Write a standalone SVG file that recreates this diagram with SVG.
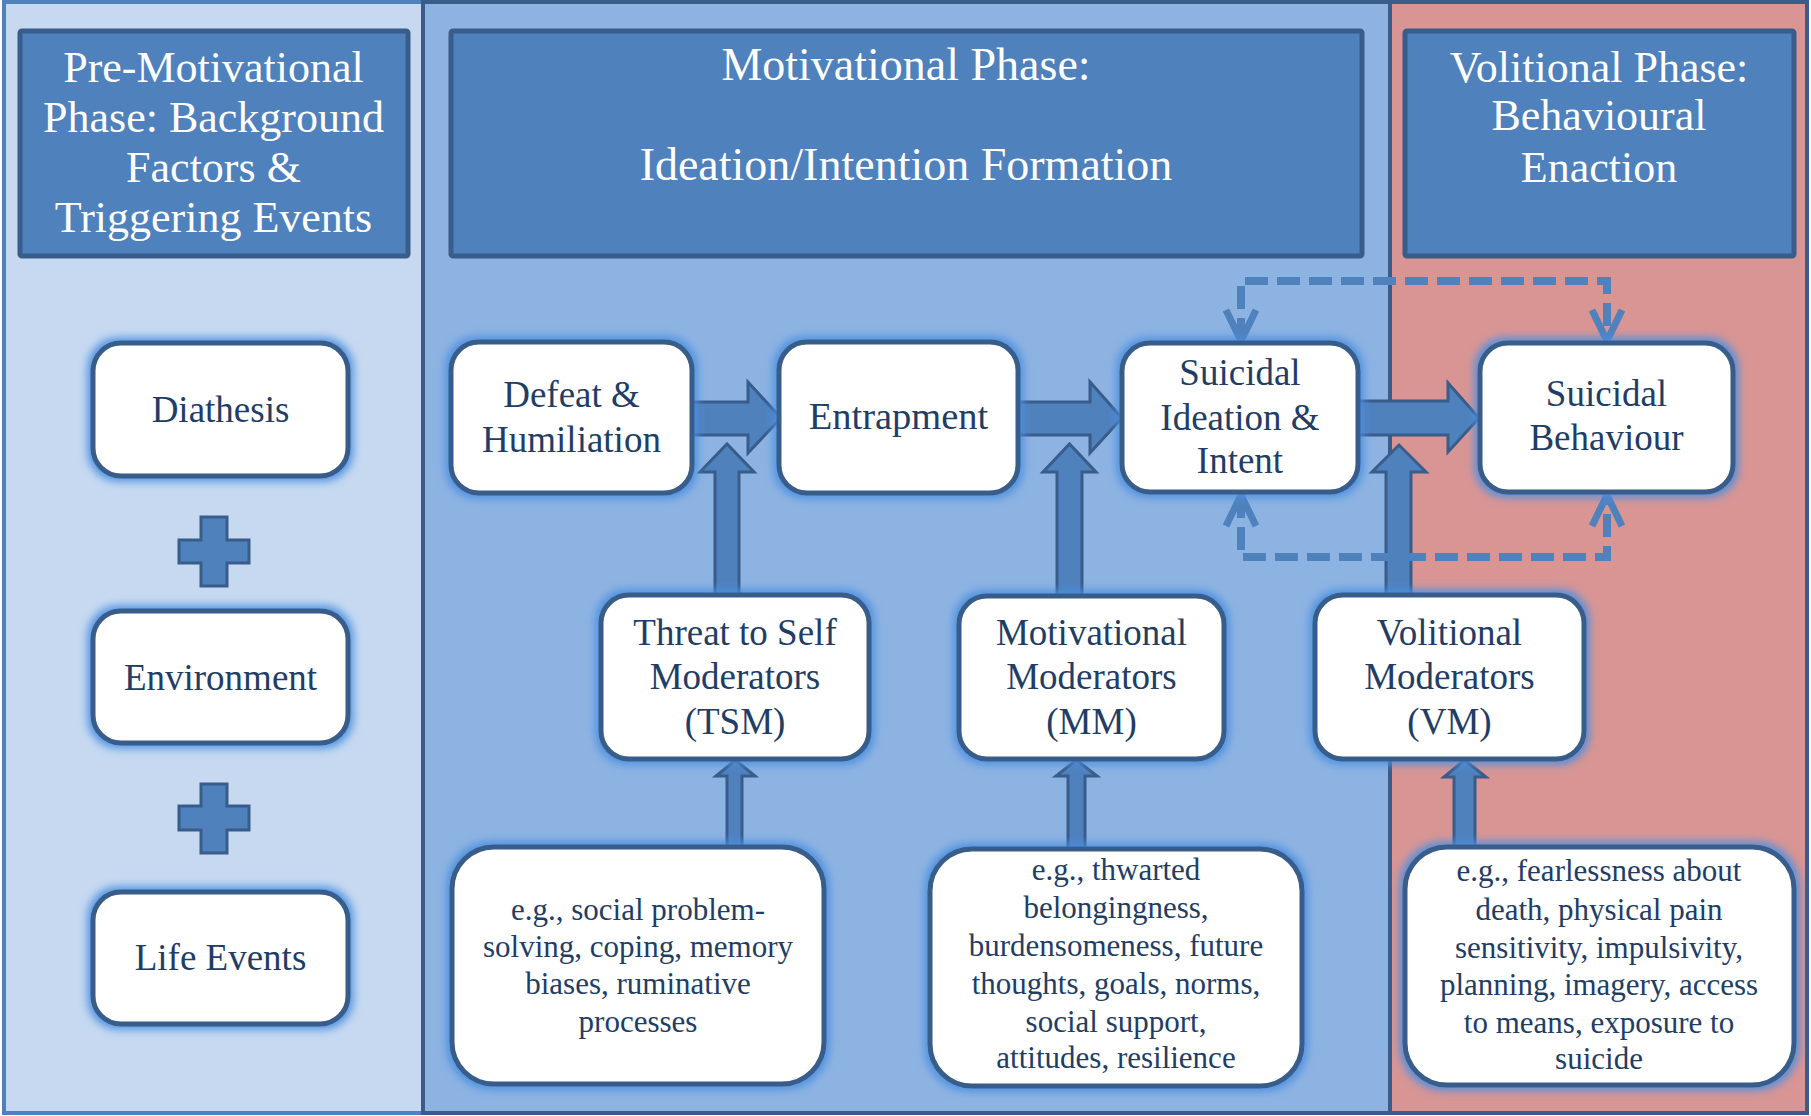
<svg xmlns="http://www.w3.org/2000/svg" width="1811" height="1116" viewBox="0 0 1811 1116">
<defs>
<style>
.hdr{fill:#4F81BD;stroke:#385D8A;stroke-width:5}
.ht{font-family:"Liberation Serif",serif;font-size:44px;fill:#FFFFFF;text-anchor:middle}
.box{fill:#FFFFFF;stroke:#385D8A;stroke-width:5}
.nt{font-family:"Liberation Serif",serif;font-size:37px;fill:#213D66;text-anchor:middle}
.et{font-family:"Liberation Serif",serif;font-size:31px;fill:#213D66;text-anchor:middle}
.blk{fill:#4F81BD;stroke:#385D8A;stroke-width:3;stroke-linejoin:miter}
.dash{fill:none;stroke:#4F81BD;stroke-width:8;stroke-dasharray:23 9}
</style>
<filter id="glow" x="-15%" y="-15%" width="130%" height="130%">
<feMorphology in="SourceAlpha" operator="dilate" radius="3" result="d"/>
<feGaussianBlur in="d" stdDeviation="4.5" result="b"/>
<feFlood flood-color="#4A8FE0" flood-opacity="0.95"/>
<feComposite in2="b" operator="in" result="g"/>
<feMerge><feMergeNode in="g"/><feMergeNode in="SourceGraphic"/></feMerge>
</filter>
<marker id="chev" markerUnits="userSpaceOnUse" viewBox="-40 -20 44 40" refX="0" refY="0" markerWidth="44" markerHeight="40" orient="auto-start-reverse" overflow="visible">
<path d="M-31,-15 L0,0 L-31,15" fill="none" stroke="#4F81BD" stroke-width="7"/>
</marker>
</defs>

<g id="panels">
<rect x="4" y="2" width="419" height="1111" fill="#C6D9F1" stroke="#4F81BD" stroke-width="4"/>
<rect x="423" y="2" width="967" height="1111" fill="#8DB3E2" stroke="#385D8A" stroke-width="4"/>
<rect x="1390" y="2" width="417" height="1111" fill="#D99594" stroke="#385D8A" stroke-width="4"/>
</g>

<g id="header-pre">
<rect class="hdr" x="20" y="31" width="388" height="225" rx="2"/>
<text class="ht" x="213.5" y="82">Pre-Motivational</text>
<text class="ht" x="213.5" y="132">Phase: Background</text>
<text class="ht" x="213.5" y="182">Factors &amp;</text>
<text class="ht" x="213.5" y="232">Triggering Events</text>
</g>
<g id="header-motivational">
<rect class="hdr" x="451" y="31" width="911" height="225" rx="2"/>
<text class="ht" x="906" y="80" style="font-size:46px">Motivational Phase:</text>
<text class="ht" x="906" y="180" style="font-size:46px">Ideation/Intention Formation</text>
</g>
<g id="header-volitional">
<rect class="hdr" x="1405" y="31" width="389" height="225" rx="2"/>
<text class="ht" x="1599" y="82">Volitional Phase:</text>
<text class="ht" x="1599" y="130">Behavioural</text>
<text class="ht" x="1599" y="182">Enaction</text>
</g>

<g id="connectors">
<polygon class="blk" points="692,402 748,402 748,382 781,418 748,453 748,435 692,435"/>
<polygon class="blk" points="1018,402 1090,402 1090,382 1122,418 1090,453 1090,435 1018,435"/>
<polygon class="blk" points="1358,401 1448,401 1448,383 1479,418 1448,452 1448,435 1358,435"/>
<polygon class="blk" points="715,595 715,472 700,472 727,444 754,472 739,472 739,595"/>
<polygon class="blk" points="1057,596 1057,472 1043,472 1069.5,444 1096,472 1082,472 1082,596"/>
<polygon class="blk" points="1386,595 1386,472 1372,472 1399,445 1426,472 1411,472 1411,595"/>
<polygon class="blk" points="727,847 727,776 716,776 735.5,760 755,776 742,776 742,847"/>
<polygon class="blk" points="1068,849 1068,776 1056,776 1076.5,760 1097,776 1085,776 1085,849"/>
<polygon class="blk" points="1454,847 1454,777 1444,777 1464.5,760 1486,777 1475,777 1475,847"/>
<path class="dash" d="M1241,341 L1241,281 L1607,281 L1607,341" marker-start="url(#chev)" marker-end="url(#chev)"/>
<path class="dash" d="M1241,495 L1241,557 L1607,557 L1607,495" marker-start="url(#chev)" marker-end="url(#chev)"/>
<g class="plus">
<polygon class="blk" points="201,517 227,517 227,540 249,540 249,563 227,563 227,586 201,586 201,563 179,563 179,540 201,540"/>
<polygon class="blk" points="201,784 227,784 227,806 249,806 249,830 227,830 227,853 201,853 201,830 179,830 179,806 201,806"/>
</g>
</g>

<g id="diathesis">
<rect class="box" filter="url(#glow)" x="93" y="343" width="255" height="133" rx="28"/>
<text class="nt" x="220.5" y="422">Diathesis</text>
</g>
<g id="environment">
<rect class="box" filter="url(#glow)" x="93" y="611" width="255" height="132" rx="28"/>
<text class="nt" x="220.5" y="690">Environment</text>
</g>
<g id="life-events">
<rect class="box" filter="url(#glow)" x="93" y="892" width="255" height="132" rx="28"/>
<text class="nt" x="220.5" y="970">Life Events</text>
</g>

<g id="defeat">
<rect class="box" filter="url(#glow)" x="451" y="342" width="241" height="151" rx="28"/>
<text class="nt" x="571.5" y="407">Defeat &amp;</text>
<text class="nt" x="571.5" y="452">Humiliation</text>
</g>
<g id="entrapment">
<rect class="box" filter="url(#glow)" x="779" y="342" width="239" height="151" rx="28"/>
<text class="nt" x="898.5" y="429" style="font-size:38.5px">Entrapment</text>
</g>
<g id="ideation">
<rect class="box" filter="url(#glow)" x="1122" y="343" width="236" height="149" rx="28"/>
<text class="nt" x="1240" y="385">Suicidal</text>
<text class="nt" x="1240" y="430">Ideation &amp;</text>
<text class="nt" x="1240" y="473">Intent</text>
</g>
<g id="behaviour">
<rect class="box" filter="url(#glow)" x="1480" y="343" width="253" height="149" rx="28"/>
<text class="nt" x="1606.5" y="406">Suicidal</text>
<text class="nt" x="1606.5" y="450">Behaviour</text>
</g>

<g id="tsm">
<rect class="box" filter="url(#glow)" x="601" y="595" width="268" height="164" rx="28"/>
<text class="nt" x="735" y="645">Threat to Self</text>
<text class="nt" x="735" y="689">Moderators</text>
<text class="nt" x="735" y="734">(TSM)</text>
</g>
<g id="mm">
<rect class="box" filter="url(#glow)" x="959" y="596" width="265" height="163" rx="28"/>
<text class="nt" x="1091.5" y="645">Motivational</text>
<text class="nt" x="1091.5" y="689">Moderators</text>
<text class="nt" x="1091.5" y="734">(MM)</text>
</g>
<g id="vm">
<rect class="box" filter="url(#glow)" x="1315" y="595" width="269" height="164" rx="28"/>
<text class="nt" x="1449.5" y="645">Volitional</text>
<text class="nt" x="1449.5" y="689">Moderators</text>
<text class="nt" x="1449.5" y="734">(VM)</text>
</g>

<g id="tsm-examples">
<rect class="box" filter="url(#glow)" x="452" y="847" width="372" height="237" rx="42"/>
<text class="et" x="638" y="920">e.g., social problem-</text>
<text class="et" x="638" y="957">solving, coping, memory</text>
<text class="et" x="638" y="994">biases, ruminative</text>
<text class="et" x="638" y="1032">processes</text>
</g>
<g id="mm-examples">
<rect class="box" filter="url(#glow)" x="930" y="849" width="372" height="237" rx="42"/>
<text class="et" x="1116" y="880">e.g., thwarted</text>
<text class="et" x="1116" y="918">belongingness,</text>
<text class="et" x="1116" y="956">burdensomeness, future</text>
<text class="et" x="1116" y="994">thoughts, goals, norms,</text>
<text class="et" x="1116" y="1032">social support,</text>
<text class="et" x="1116" y="1068">attitudes, resilience</text>
</g>
<g id="vm-examples">
<rect class="box" filter="url(#glow)" x="1405" y="847" width="389" height="238" rx="42"/>
<text class="et" x="1599" y="881">e.g., fearlessness about</text>
<text class="et" x="1599" y="920">death, physical pain</text>
<text class="et" x="1599" y="958">sensitivity, impulsivity,</text>
<text class="et" x="1599" y="995">planning, imagery, access</text>
<text class="et" x="1599" y="1033">to means, exposure to</text>
<text class="et" x="1599" y="1069">suicide</text>
</g>
</svg>
